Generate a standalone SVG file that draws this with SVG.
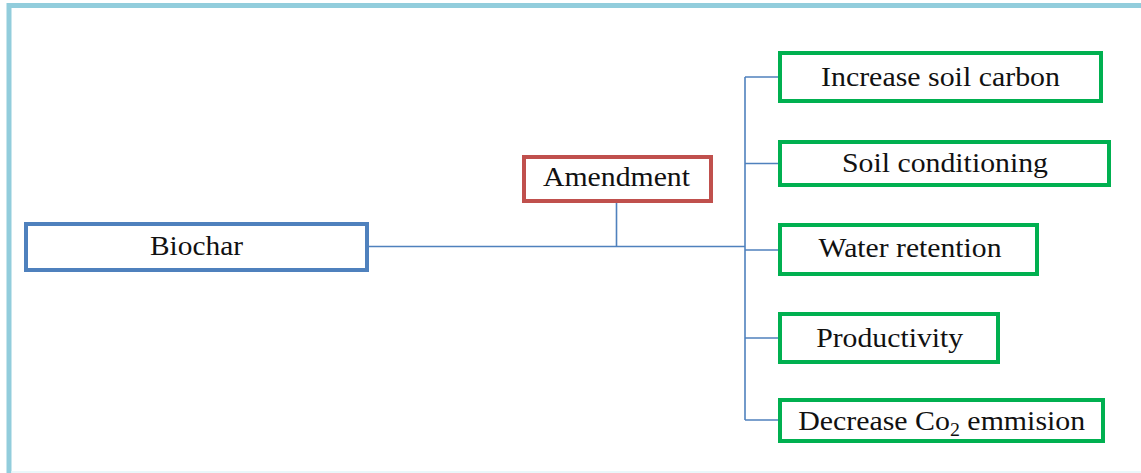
<svg xmlns="http://www.w3.org/2000/svg" width="1141" height="473" viewBox="0 0 1141 473">
<style>
.box{fill:#ffffff;stroke-width:4}
.blue{stroke:#4f81bd}
.red{stroke:#c0504d}
.green{stroke:#00b050}
.t{font-family:"Liberation Serif","Times New Roman",serif;font-size:27px;fill:#111;text-anchor:middle}
.conn line{stroke:#4f81bd;stroke-width:1.6;fill:none}
</style>
<rect x="0" y="0" width="1141" height="473" fill="#ffffff"/>
<g id="frame">
<path d="M9 473 V5.5 H1141" fill="none" stroke="#92cddc" stroke-width="5"/>
<line x1="11" y1="472" x2="1141" y2="472" stroke="#e3f4f8" stroke-width="1.5"/>
</g>
<g class="conn" id="connectors">
<line x1="367" y1="246.5" x2="745" y2="246.5"/>
<line x1="616.5" y1="202" x2="616.5" y2="246.5"/>
<line x1="745" y1="77" x2="745" y2="420"/>
<line x1="745" y1="77" x2="779" y2="77"/>
<line x1="745" y1="163.5" x2="779" y2="163.5"/>
<line x1="745" y1="250" x2="779" y2="250"/>
<line x1="745" y1="338" x2="779" y2="338"/>
<line x1="745" y1="420" x2="779" y2="420"/>
</g>
<g id="biochar">
<rect class="box blue" x="26" y="224" width="341" height="46"/>
<text class="t" x="196.5" y="255" textLength="93" lengthAdjust="spacingAndGlyphs">Biochar</text>
</g>
<g id="amendment">
<rect class="box red" x="524" y="157" width="187" height="44"/>
<text class="t" x="616.5" y="186" textLength="147" lengthAdjust="spacingAndGlyphs">Amendment</text>
</g>
<g id="increase-soil-carbon">
<rect class="box green" x="780" y="53" width="321" height="48"/>
<text class="t" x="940.5" y="85.7" textLength="239" lengthAdjust="spacingAndGlyphs">Increase soil carbon</text>
</g>
<g id="soil-conditioning">
<rect class="box green" x="780" y="142" width="329" height="43"/>
<text class="t" x="945" y="172.3" textLength="206" lengthAdjust="spacingAndGlyphs">Soil conditioning</text>
</g>
<g id="water-retention">
<rect class="box green" x="780" y="225" width="257" height="49"/>
<text class="t" x="910" y="257.3" textLength="183" lengthAdjust="spacingAndGlyphs">Water retention</text>
</g>
<g id="productivity">
<rect class="box green" x="780" y="314" width="218" height="48"/>
<text class="t" x="889.7" y="346.7" textLength="147" lengthAdjust="spacingAndGlyphs">Productivity</text>
</g>
<g id="decrease-co2">
<rect class="box green" x="780" y="400" width="323" height="41"/>
<text class="t" x="941.7" y="430" textLength="287" lengthAdjust="spacingAndGlyphs">Decrease Co<tspan font-size="18" dy="6">2</tspan><tspan dy="-6"> emmision</tspan></text>
</g>
</svg>
